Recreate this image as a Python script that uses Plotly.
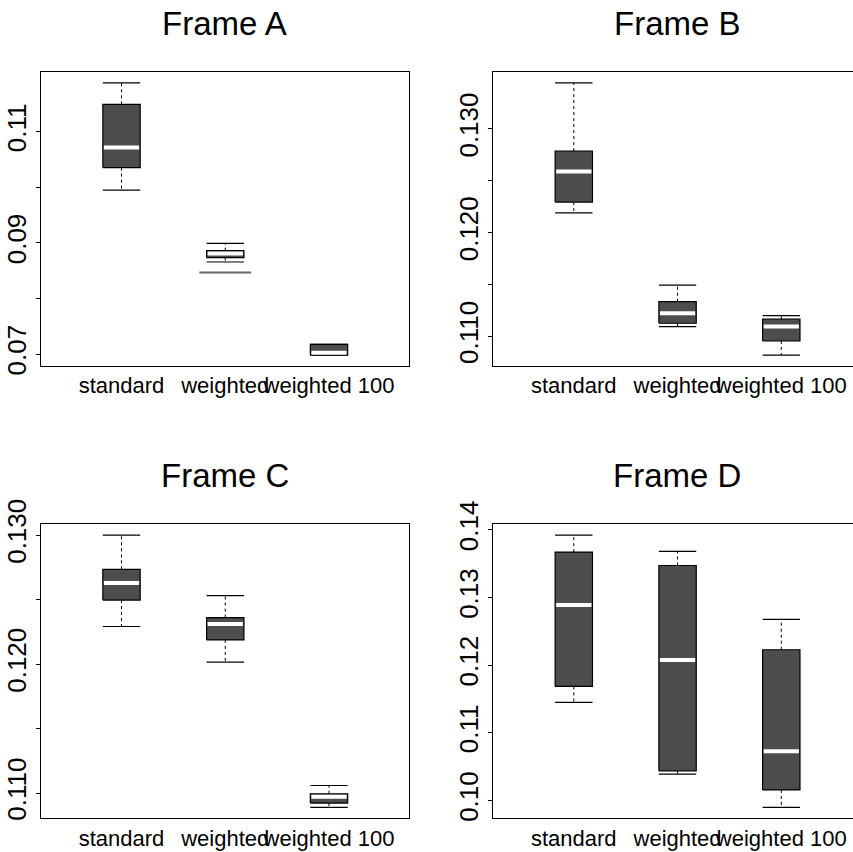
import plotly.graph_objects as go

# ---------------- data ----------------
categories = ["standard", "weighted", "weighted 100"]
frame_titles = ["Frame A", "Frame B", "Frame C", "Frame D"]

# Frame A
a_lower = [0.0995, 0.08656, 0.0698]
a_q1 = [0.10355, 0.08734, 0.0698]
a_median = [0.10716, 0.0881, 0.07024]
a_q3 = [0.11494, 0.08861, 0.07174]
a_upper = [0.1188, 0.08993, 0.07174]
a_outliers = [[], [0.08468], []]

# Frame B
b_lower = [0.12191, 0.11093, 0.10819]
b_q1 = [0.12295, 0.11126, 0.10955]
b_median = [0.1259, 0.11222, 0.11096]
b_q3 = [0.12787, 0.11334, 0.11167]
b_upper = [0.13444, 0.11493, 0.11199]
b_outliers = [[], [], []]

# Frame C
c_lower = [0.12292, 0.12015, 0.10889]
c_q1 = [0.12497, 0.12188, 0.10923]
c_median = [0.12629, 0.12312, 0.10971]
c_q3 = [0.12735, 0.12361, 0.10995]
c_upper = [0.1300, 0.12531, 0.11059]
c_outliers = [[], [], []]

# Frame D
d_lower = [0.11449, 0.10388, 0.09897]
d_q1 = [0.11685, 0.10437, 0.10156]
d_median = [0.12888, 0.12074, 0.10728]
d_q3 = [0.1367, 0.13472, 0.12227]
d_upper = [0.1392, 0.1368, 0.12675]
d_outliers = [[], [], []]

# y tick values and labels
a_tickvals = [0.07, 0.08, 0.09, 0.10, 0.11]
a_ticktext = ["0.07", "", "0.09", "", "0.11"]
b_tickvals = [0.110, 0.115, 0.120, 0.125, 0.130]
b_ticktext = ["0.110", "", "0.120", "", "0.130"]
c_tickvals = [0.110, 0.115, 0.120, 0.125, 0.130]
c_ticktext = ["0.110", "", "0.120", "", "0.130"]
d_tickvals = [0.10, 0.11, 0.12, 0.13, 0.14]
d_ticktext = ["0.10", "0.11", "0.12", "0.13", "0.14"]

frames = [
    (a_lower, a_q1, a_median, a_q3, a_upper, a_outliers, a_tickvals, a_ticktext),
    (b_lower, b_q1, b_median, b_q3, b_upper, b_outliers, b_tickvals, b_ticktext),
    (c_lower, c_q1, c_median, c_q3, c_upper, c_outliers, c_tickvals, c_ticktext),
    (d_lower, d_q1, d_median, d_q3, d_upper, d_outliers, d_tickvals, d_ticktext),
]

# ---------------- layout geometry (pixels) ----------------
W, H = 853, 852
# (left, right, top, bottom) of each plot panel in pixels
panels = [
    (41, 409.3, 72, 366),
    (493.3, 853, 72, 366),
    (41, 409.3, 524.3, 818.3),
    (493.3, 853, 524.3, 818.3),
]
right_border = [True, False, True, False]  # right panels run off the page edge
title_pos = [(225, 24), (677, 24), (225, 476), (677, 476)]
SPACING = 103.75  # px per category unit
HALF = 0.18       # half box width in category units

FILL = "#4d4d4d"
FONT = "Liberation Sans, Arial, Helvetica, sans-serif"

fig = go.Figure()
layout_axes = {}
annotations = []

for k, (lo, q1, med, q3, up, outs, tv, tt) in enumerate(frames):
    sfx = "" if k == 0 else str(k + 1)
    xa, ya = "x" + sfx, "y" + sfx
    pos = [i + 1 for i in range(len(categories))]

    # whiskers (dashed)
    wx, wy = [], []
    for c, a, b, c1, d in zip(pos, q3, up, q1, lo):
        wx += [c, c, None, c, c, None]
        wy += [a, b, None, c1, d, None]
    fig.add_trace(go.Scatter(x=wx, y=wy, mode="lines", xaxis=xa, yaxis=ya,
                             line=dict(color="black", width=1, dash="3px,3px"),
                             showlegend=False, hoverinfo="skip"))
    # staples
    sx, sy = [], []
    for c, b, d in zip(pos, up, lo):
        sx += [c - HALF, c + HALF, None, c - HALF, c + HALF, None]
        sy += [b, b, None, d, d, None]
    fig.add_trace(go.Scatter(x=sx, y=sy, mode="lines", xaxis=xa, yaxis=ya,
                             line=dict(color="black", width=1.2),
                             showlegend=False, hoverinfo="skip"))
    # boxes
    bx, by = [], []
    for c, a, c1 in zip(pos, q3, q1):
        bx += [c - HALF, c + HALF, c + HALF, c - HALF, c - HALF, None]
        by += [c1, c1, a, a, c1, None]
    fig.add_trace(go.Scatter(x=bx, y=by, mode="lines", fill="toself",
                             fillcolor=FILL, xaxis=xa, yaxis=ya,
                             line=dict(color="black", width=1.2),
                             showlegend=False, hoverinfo="skip"))
    # medians
    mx, my = [], []
    for c, m in zip(pos, med):
        mx += [c - HALF + 0.01, c + HALF - 0.01, None]
        my += [m, m, None]
    fig.add_trace(go.Scatter(x=mx, y=my, mode="lines", xaxis=xa, yaxis=ya,
                             line=dict(color="white", width=4),
                             showlegend=False, hoverinfo="skip"))
    # outliers
    ox, oy = [], []
    for c, o in zip(pos, outs):
        for v in o:
            ox.append(c)
            oy.append(v)
    if ox:
        fig.add_trace(go.Scatter(x=ox, y=oy, mode="markers", xaxis=xa, yaxis=ya,
                                 marker=dict(symbol="line-ew-open", size=37,
                                             color="#666666",
                                             line=dict(color="#666666", width=2)),
                                 showlegend=False, hoverinfo="skip"))

    # axes
    L, R, T, B = panels[k]
    allv = lo + up + [v for o in outs for v in o]
    ymin, ymax = min(allv), max(allv)
    pad = 0.04 * (ymax - ymin)
    c1px = L + 80.5
    xmin = 1 - (c1px - L) / SPACING
    xmax = xmin + (R - L) / SPACING
    layout_axes["xaxis" + sfx] = dict(
        domain=[L / W, R / W], range=[xmin, xmax], anchor=ya,
        tickvals=pos, ticktext=categories, ticks="", tickangle=0,
        automargin=False,
        showline=True, mirror=True, linecolor="black", linewidth=1,
        showgrid=False, zeroline=False,
        tickfont=dict(family=FONT, size=22, color="black"),
    )
    layout_axes["yaxis" + sfx] = dict(
        domain=[1 - B / H, 1 - T / H], range=[ymin - pad, ymax + pad], anchor=xa,
        tickvals=tv, ticktext=tt, ticks="outside", ticklen=4, tickcolor="black",
        tickangle=-90, automargin=False,
        showline=True, mirror=right_border[k], linecolor="black", linewidth=1,
        showgrid=False, zeroline=False,
        tickfont=dict(family=FONT, size=26, color="black"),
    )
    tx, ty = title_pos[k]
    annotations.append(dict(text=frame_titles[k], x=tx / W, y=1 - ty / H,
                            xref="paper", yref="paper", showarrow=False,
                            xanchor="center", yanchor="middle",
                            font=dict(family=FONT, size=33, color="black")))

fig.update_layout(
    width=W, height=H, autosize=False,
    margin=dict(l=0, r=0, t=0, b=0),
    paper_bgcolor="white", plot_bgcolor="white",
    annotations=annotations,
    showlegend=False,
    **layout_axes,
)

fig.write_html("out.html", config={"displayModeBar": False},
               post_script="document.body.style.margin='0';")
